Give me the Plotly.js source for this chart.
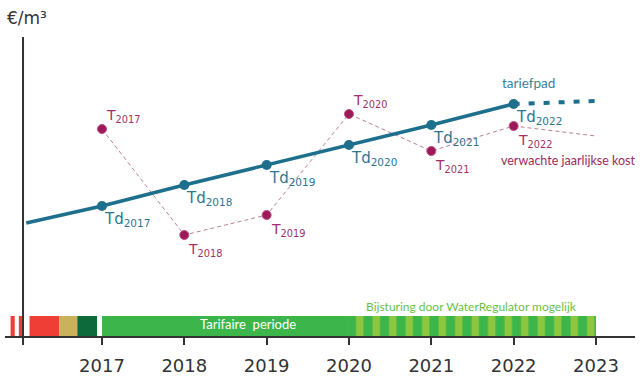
<!DOCTYPE html>
<html>
<head>
<meta charset="utf-8">
<script src="https://cdn.plot.ly/plotly-3.0.1.min.js"></script>
<style>
  html, body { margin: 0; padding: 0; background: #fff; }
  #chart { width: 643px; height: 379px; }
</style>
</head>
<body>
<div id="chart"></div>
<script>
// ---- data ----
const years = [2017, 2018, 2019, 2020, 2021, 2022];
const tickLabels = ['2017', '2018', '2019', '2020', '2021', '2022', '2023'];
const tickYears = [2017, 2018, 2019, 2020, 2021, 2022, 2023];
const tdValues = [13.0, 15.1, 17.1, 19.1, 21.1, 23.2];      // tariefpad
const tValues = [20.7, 10.1, 12.1, 22.2, 18.5, 21.0];       // verwachte jaarlijkse kost
const tdStartYear = [2016.08];
const tdStartValue = [11.3];
const projYears = [2022, 2023];
const tdProjValues = [23.2, 23.5];
const tProjValues = [21.0, 20.0];
const phaseStart = [2015.89, 2015.99, 2016.12, 2016.48, 2016.70, 2017.0];
const phaseEnd = [2015.94, 2016.03, 2016.48, 2016.70, 2016.94, 2020.0];
const adjustStart = [2020.0];
const adjustEnd = [2023.0];

// ---- styles ----
const TEAL = '#1d6f8b';
const MAROON = '#9c1a5b';
const phaseColors = ['#ef3e36', '#ef3e36', '#ef3e36', '#c8b35c', '#0d6b3b', '#3cb54a'];
const tAbove = [true, false, false, true, false, false];
const BAR_Y = 1.0, BAR_H = 2.0;

const traces = [
  {
    type: 'bar', orientation: 'h',
    y: phaseStart.map(() => BAR_Y),
    base: phaseStart,
    x: phaseStart.map((s, i) => phaseEnd[i] - s),
    width: BAR_H,
    marker: { color: phaseColors, line: { width: 0 } },
    hoverinfo: 'skip', showlegend: false
  },
  {
    type: 'bar', orientation: 'h',
    y: adjustStart.map(() => BAR_Y),
    base: adjustStart,
    x: adjustStart.map((s, i) => adjustEnd[i] - s),
    width: BAR_H,
    marker: {
      color: '#3cb54a', line: { width: 0 },
      pattern: { shape: '|', bgcolor: '#3cb54a', fgcolor: '#8dc63f', size: 16.5, solidity: 0.45, fillmode: 'replace' }
    },
    hoverinfo: 'skip', showlegend: false
  },
  // expected cost dashed line
  {
    type: 'scatter', mode: 'lines',
    x: years, y: tValues,
    line: { color: '#b9809c', width: 1, dash: '4px,3px' },
    hoverinfo: 'skip', showlegend: false
  },
  {
    type: 'scatter', mode: 'lines',
    x: projYears, y: tProjValues,
    line: { color: '#b9809c', width: 1, dash: '4px,3px' },
    hoverinfo: 'skip', showlegend: false
  },
  // tariff path
  {
    type: 'scatter', mode: 'lines',
    x: tdStartYear.concat(years), y: tdStartValue.concat(tdValues),
    line: { color: TEAL, width: 3.5 },
    hoverinfo: 'skip', showlegend: false
  },
  {
    type: 'scatter', mode: 'lines',
    x: projYears, y: tdProjValues,
    line: { color: TEAL, width: 4, dash: '6px,9px' },
    hoverinfo: 'skip', showlegend: false
  },
  {
    type: 'scatter', mode: 'markers',
    x: years, y: tdValues,
    marker: { color: TEAL, size: 10 },
    hoverinfo: 'skip', showlegend: false
  },
  {
    type: 'scatter', mode: 'markers',
    x: years, y: tValues,
    marker: { color: MAROON, size: 9, line: { color: '#c0507f', width: 1 } },
    hoverinfo: 'skip', showlegend: false
  }
];

const annotations = [];
years.forEach((yr, i) => {
  annotations.push({
    x: yr, y: tdValues[i], xref: 'x', yref: 'y',
    text: 'Td<sub>' + yr + '</sub>', showarrow: false,
    xanchor: 'left', yanchor: 'top', xshift: 0, yshift: -2,
    font: { family: 'DejaVu Sans', size: 15, color: '#2f7590' }
  });
  annotations.push({
    x: yr, y: tValues[i], xref: 'x', yref: 'y',
    text: 'T<sub>' + yr + '</sub>', showarrow: false,
    xanchor: 'left', yanchor: tAbove[i] ? 'bottom' : 'top',
    xshift: 2, yshift: tAbove[i] ? 2 : -4,
    font: { family: 'DejaVu Sans', size: 14, color: '#a0306a' }
  });
});
annotations.push({
  x: 2022, y: tdValues[5], xref: 'x', yref: 'y', text: 'tariefpad', showarrow: false,
  xanchor: 'left', yanchor: 'middle', xshift: -14, yshift: 21,
  font: { family: 'Lato', size: 13.5, color: '#3b7f98' }
});
annotations.push({
  x: 2022, y: tValues[5], xref: 'x', yref: 'y', text: 'verwachte jaarlijkse kost', showarrow: false,
  xanchor: 'left', yanchor: 'middle', xshift: -15, yshift: -34,
  font: { family: 'Lato', size: 12.5, color: '#9c2a62' }
});
annotations.push({
  x: 2018.77, y: BAR_Y + 0.2, xref: 'x', yref: 'y', text: 'Tarifaire  periode', showarrow: false,
  xanchor: 'center', yanchor: 'middle',
  font: { family: 'Lato', size: 13, color: '#ffffff' }
});
annotations.push({
  x: 2021.49, y: BAR_Y + 1.95, xref: 'x', yref: 'y', text: 'Bijsturing door WaterRegulator mogelijk', showarrow: false,
  xanchor: 'center', yanchor: 'middle',
  font: { family: 'Lato', size: 12, color: '#6cbf45' }
});
annotations.push({
  x: 0, y: 0.946, xref: 'paper', yref: 'paper', text: '€/m³', showarrow: false,
  xanchor: 'left', yanchor: 'middle',
  font: { family: 'DejaVu Sans', size: 17, color: '#333333' }
});

const layout = {
  width: 643, height: 379,
  margin: { l: 5, r: 8, t: 0, b: 43, pad: 0 },
  paper_bgcolor: '#ffffff', plot_bgcolor: '#ffffff',
  barmode: 'overlay',
  showlegend: false,
  xaxis: {
    range: [2015.822, 2023.474], fixedrange: true,
    showgrid: false, zeroline: false,
    showline: true, linecolor: '#333333', linewidth: 2,
    tickmode: 'array', tickvals: tickYears, ticktext: tickLabels,
    ticks: 'outside', ticklen: 7, tickwidth: 2, tickcolor: '#333333',
    ticklabelstandoff: 5,
    tickfont: { family: 'DejaVu Sans', size: 18, color: '#333333' }
  },
  xaxis2: {
    range: [2015.822, 2023.474], overlaying: 'x', anchor: 'y', side: 'bottom',
    showgrid: false, zeroline: false, showline: false,
    tickmode: 'array', tickvals: tickYears, showticklabels: false,
    ticks: 'inside', ticklen: 6, tickwidth: 2, tickcolor: '#333333'
  },
  yaxis: {
    range: [0, 33.6], fixedrange: true, visible: false,
    showgrid: false, zeroline: false
  },
  shapes: [
    { type: 'line', xref: 'paper', yref: 'paper', x0: 0.0286, x1: 0.0286, y0: 0.89, y1: -0.027,
      line: { color: '#333333', width: 2 } }
  ],
  annotations: annotations
};

Plotly.newPlot('chart', traces, layout, { displayModeBar: false, staticPlot: true });
</script>
</body>
</html>
